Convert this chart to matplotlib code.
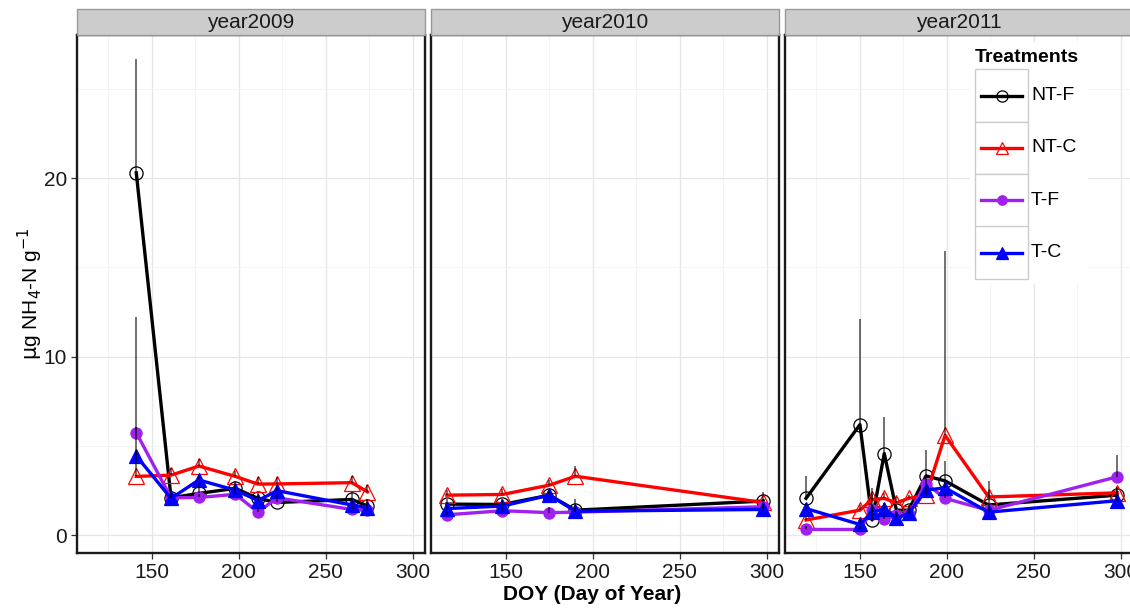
import matplotlib.pyplot as plt
from matplotlib.lines import Line2D
from matplotlib.patches import Rectangle
import numpy as np

plt.rcParams['font.family'] = ['Liberation Sans', 'DejaVu Sans']

years = ['year2009', 'year2010', 'year2011']
treatments = ['NT-F', 'NT-C', 'T-F', 'T-C']

# day of year of each sampling
doy_2009 = [141, 161, 177, 198, 211, 222, 265, 274]
doy_2010 = [116, 148, 175, 190, 298]
doy_2011 = [119, 150, 157, 164, 171, 178, 188, 199, 224, 298]

# means (ug NH4-N / g)
ntf_2009 = [20.3, 2.1, 2.35, 2.63, 2.07, 1.84, 2.01, 1.65]
ntc_2009 = [3.3, 3.37, 3.88, 3.3, 2.87, 2.88, 2.95, 2.44]
tf_2009 = [5.75, 2.1, 2.12, 2.3, 1.3, 2.1, 1.45, 1.4]
tc_2009 = [4.45, 2.07, 3.1, 2.53, 1.95, 2.5, 1.7, 1.55]

ntf_2010 = [1.75, 1.73, 2.25, 1.41, 1.92]
ntc_2010 = [2.25, 2.29, 2.81, 3.31, 1.84]
tf_2010 = [1.15, 1.38, 1.27, 1.3, 1.6]
tc_2010 = [1.5, 1.64, 2.25, 1.35, 1.45]

ntf_2011 = [2.07, 6.2, 0.86, 4.58, 1.41, 1.41, 3.33, 3.05, 1.7, 2.25]
ntc_2011 = [0.86, 1.41, 2.01, 2.07, 1.82, 2.07, 2.25, 5.6, 2.15, 2.38]
tf_2011 = [0.33, 0.33, 1.4, 0.9, 1.15, 1.2, 2.9, 2.07, 1.4, 3.28]
tc_2011 = [1.5, 0.61, 1.3, 1.5, 0.95, 1.23, 2.53, 2.66, 1.3, 1.94]

# standard errors (only the upper half is drawn)
ntf_se_2009 = [6.4, 0.3, 0.5, 0.4, 0.3, 0.3, 0.4, 0.4]
ntc_se_2009 = [8.9, 0.4, 0.4, 0.3, 0.4, 0.4, 0.4, 0.4]
tf_se_2009 = [0.3, 0.2, 0.2, 0.3, 0.3, 0.2, 0.2, 0.2]
tc_se_2009 = [0.3, 0.2, 0.3, 0.3, 0.3, 0.3, 0.3, 0.3]

ntf_se_2010 = [0.3, 0.3, 0.3, 0.6, 0.5]
ntc_se_2010 = [0.3, 0.3, 0.3, 0.55, 0.2]
tf_se_2010 = [0.2, 0.2, 0.3, 0.2, 0.2]
tc_se_2010 = [0.2, 0.3, 0.3, 0.2, 0.2]

ntf_se_2011 = [1.25, 5.9, 1.8, 2.05, 0.3, 0.3, 1.45, 1.1, 1.35, 0.4]
ntc_se_2011 = [0.3, 0.3, 0.3, 0.3, 0.3, 0.2, 0.4, 10.3, 0.3, 0.3]
tf_se_2011 = [0.2, 0.2, 0.3, 0.3, 0.2, 0.3, 0.3, 0.3, 0.3, 1.2]
tc_se_2011 = [0.3, 0.3, 0.3, 0.3, 0.3, 0.3, 0.3, 0.3, 0.3, 0.3]

doys = [doy_2009, doy_2010, doy_2011]
means = [[ntf_2009, ntc_2009, tf_2009, tc_2009],
         [ntf_2010, ntc_2010, tf_2010, tc_2010],
         [ntf_2011, ntc_2011, tf_2011, tc_2011]]
ses = [[ntf_se_2009, ntc_se_2009, tf_se_2009, tc_se_2009],
       [ntf_se_2010, ntc_se_2010, tf_se_2010, tc_se_2010],
       [ntf_se_2011, ntc_se_2011, tf_se_2011, tc_se_2011]]

colors = ['black', '#FF0000', '#A020F0', '#0000FF']
markers = ['o', '^', 'o', '^']
msizes = [9.5, 11, 8, 10.5]
filled = [False, False, True, True]

W, H = 1130.0, 610.0
fig = plt.figure(figsize=(W / 100, H / 100), dpi=100)


def fx(px):
    return px / W


def fy(py):
    return 1 - py / H


# shared scales with ggplot style 5% expansion
all_x = np.concatenate([np.array(d, float) for d in doys])
all_lo = np.concatenate([np.array(m, float) for yr in means for m in yr])
all_hi = np.concatenate([np.array(m, float) + np.array(s, float)
                         for yrm, yrs in zip(means, ses) for m, s in zip(yrm, yrs)])
xr = all_x.max() - all_x.min()
xlim = (all_x.min() - 0.05 * xr, all_x.max() + 0.05 * xr)
yr_ = all_hi.max() - all_lo.min()
ylim = (all_lo.min() - 0.05 * yr_, all_hi.max() + 0.05 * yr_)

panel_left = [77, 431, 785]
panel_w = 348
top, bottom = 35, 553

for k in range(3):
    ax = fig.add_axes([fx(panel_left[k]), fy(bottom), panel_w / W, (bottom - top) / H])
    ax.set_xlim(xlim)
    ax.set_ylim(ylim)
    ax.set_xticks([150, 200, 250, 300])
    ax.set_xticks([125, 175, 225, 275], minor=True)
    ax.set_yticks([0, 10, 20])
    ax.set_yticks([5, 15, 25], minor=True)
    ax.grid(True, which='major', color='#e6e6e6', lw=0.9)
    ax.grid(True, which='minor', color='#f4f4f4', lw=0.7)
    ax.set_axisbelow(True)
    for sp in ax.spines.values():
        sp.set_linewidth(1.7)
        sp.set_color('#1a1a1a')
    ax.tick_params(which='major', length=4.3, width=0.9, color='#333333',
                   labelsize=15, labelcolor='#1a1a1a', pad=3)
    ax.tick_params(which='minor', length=0)
    if k > 0:
        ax.tick_params(axis='y', which='major', length=0, labelleft=False)

    x = doys[k]
    for j in range(4):
        m = means[k][j]
        ax.plot(x, m, color=colors[j], lw=2.4, zorder=3 + j,
                marker=markers[j], ms=msizes[j],
                mfc=colors[j] if filled[j] else 'none',
                mec=colors[j], mew=0.9)
    for j in range(4):
        m = np.array(means[k][j])
        s = np.array(ses[k][j])
        ax.vlines(x, m, m + s, color='black', alpha=0.6, lw=1.3, zorder=8)

    # strip
    sx = fx(panel_left[k])
    fig.patches.append(Rectangle((sx, fy(top)), panel_w / W, (top - 9) / H,
                                 transform=fig.transFigure, facecolor='#cccccc',
                                 edgecolor='#999999', lw=1.0))
    fig.text(sx + panel_w / W / 2, fy(22), years[k], ha='center', va='center',
             fontsize=15, color='#1a1a1a')

fig.text(fx(592), fy(594), 'DOY (Day of Year)', ha='center', va='center',
         fontsize=15, fontweight='bold')
fig.text(fx(30), fy(294), r'$\mathrm{\mu}$g NH$_4$-N g$^{-1}$', ha='center', va='center',
         rotation=90, fontsize=15)

# legend drawn inside the last panel
fig.patches.append(Rectangle((fx(970), fy(284)), (1088 - 970) / W, (284 - 42) / H,
                             transform=fig.transFigure, facecolor='white',
                             edgecolor='none', zorder=20))
fig.text(fx(975), fy(58), 'Treatments', ha='left', va='center', fontsize=14,
         fontweight='bold', zorder=21)
key_top, key_h = 69.3, 52.4
for j, name in enumerate(treatments):
    y0 = key_top + j * key_h
    fig.patches.append(Rectangle((fx(975), fy(y0 + key_h)), 52.5 / W, key_h / H,
                                 transform=fig.transFigure, facecolor='white',
                                 edgecolor='#cccccc', lw=1.0, zorder=21))
    yc = y0 + key_h / 2
    fig.lines.append(Line2D([fx(981), fx(1022)], [fy(yc), fy(yc)],
                            transform=fig.transFigure, color=colors[j], lw=2.4, zorder=22))
    fig.lines.append(Line2D([fx(1001.5)], [fy(yc)], transform=fig.transFigure,
                            marker=markers[j], ms=msizes[j] * 0.85,
                            mfc=colors[j] if filled[j] else 'none',
                            mec=colors[j], mew=0.9, zorder=23))
    fig.text(fx(1031), fy(yc), name, ha='left', va='center', fontsize=14, zorder=22)

fig.savefig('out.png', dpi=100)
